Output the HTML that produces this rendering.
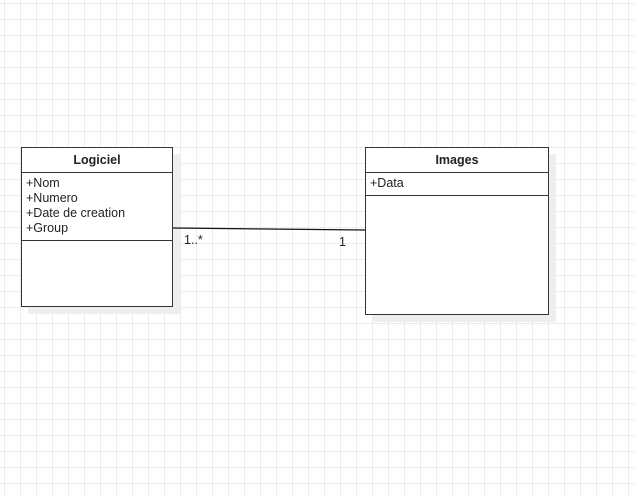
<!DOCTYPE html>
<html><head><meta charset="utf-8"><style>
body{margin:0;width:635px;height:497px;overflow:hidden;background:#fff;
background-image:linear-gradient(to right,#ececec 1px,transparent 1px),linear-gradient(to bottom,#ececec 1px,transparent 1px);
background-size:16px 16px;background-position:4px 3px;font-family:"Liberation Sans",Arial,sans-serif;position:relative}
.box{position:absolute;border:1.5px solid #333;background:#fff;box-sizing:border-box;box-shadow:7px 7px 0 #eee;font-size:12.5px;color:#222}
.hd{font-weight:bold;text-align:center;border-bottom:1.5px solid #333;box-sizing:border-box}
.at{border-bottom:1.5px solid #333;padding:3px 4px 1px;line-height:15px;box-sizing:border-box}
.lbl{position:absolute;font-size:12.5px;color:#222}
</style></head><body>
<div class="box" style="left:21px;top:147px;width:152px;height:160px">
<div class="hd" style="height:25px;line-height:25px">Logiciel</div>
<div class="at" style="height:68px">+Nom<br>+Numero<br>+Date de creation<br>+Group</div>
</div>
<div class="box" style="left:365px;top:147px;width:184px;height:168px">
<div class="hd" style="height:25px;line-height:25px">Images</div>
<div class="at" style="height:23px">+Data</div>
</div>
<svg style="position:absolute;left:0;top:0" width="635" height="497"><line x1="173" y1="228" x2="365" y2="230" stroke="#111" stroke-width="1.2"/></svg>
<div class="lbl" style="left:184px;top:233px">1..*</div>
<div class="lbl" style="left:339px;top:235px">1</div>
</body></html>
